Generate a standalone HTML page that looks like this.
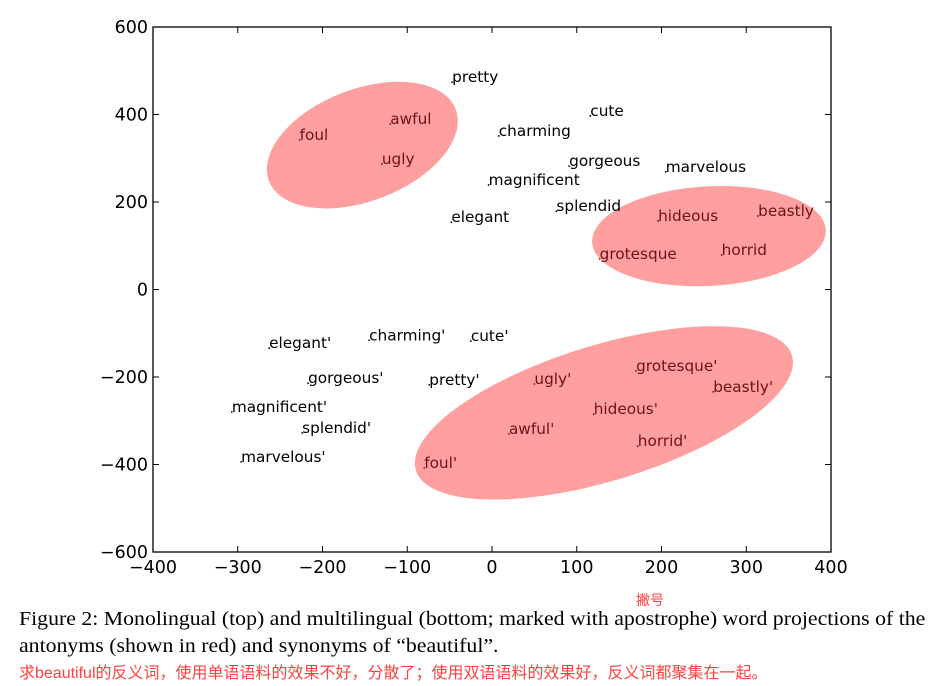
<!DOCTYPE html>
<html><head><meta charset="utf-8"><style>
body{margin:0;background:#fff;width:942px;height:686px;overflow:hidden;position:relative}
.cap{position:absolute;left:19px;font-family:"Liberation Serif",serif;font-size:20px;color:#000;white-space:nowrap;transform:scaleX(1.09);transform-origin:left top}
.cn{position:absolute;font-family:"Liberation Sans","Noto Sans CJK SC",sans-serif;color:#ff4040;font-size:14px;white-space:nowrap}
</style></head><body>
<svg id="chart" width="942" height="600" style="position:absolute;left:0;top:0" font-family="DejaVu Sans, sans-serif"></svg>
<div class="cn" style="left:636px;top:590px">撇号</div>
<div class="cap" style="top:608px">Figure 2: Monolingual (top) and multilingual (bottom; marked with apostrophe) word projections of the</div>
<div class="cap" style="top:635px">antonyms (shown in red) and synonyms of “beautiful”.</div>
<div class="cn" style="left:19px;top:659px;font-size:16px">求beautiful的反义词，使用单语语料的效果不好，分散了；使用双语语料的效果好，反义词都聚集在一起。</div>
<script>
const words=["pretty","foul","awful","ugly","charming","cute","gorgeous","marvelous","magnificent","splendid","hideous","beastly","elegant","grotesque","horrid","elegant'","charming'","cute'","gorgeous'","pretty'","ugly'","grotesque'","beastly'","magnificent'","hideous'","awful'","splendid'","horrid'","marvelous'","foul'"];
const xs=[-47,-227,-120,-130,8,116,91,205,-4,76,196,314,-48,127,271,-263,-145,-25,-217,-74,50,170,261,-307,120,20,-224,172,-296,-80];
const ys=[474,342,378,287,351,397,282,269,239,179,157,168,154,70,79,-134,-116,-118,-214,-218,-216,-186,-234,-280,-285,-330,-328,-358,-394,-408];
const antonym=[0,1,1,1,0,0,0,0,0,0,1,1,0,1,1,0,0,0,0,0,1,1,1,0,1,1,0,1,0,1];
const ellCx=[-153,256,132];const ellCy=[330,122,-282];const ellRx=[118,138,232];const ellRy=[128,114,155];const ellRot=[-21,-3,-17];
const xTicks=[-400,-300,-200,-100,0,100,200,300,400];
const yTicks=[600,400,200,0,-200,-400,-600];
const L=153,R=831,T=27,B=552;
const X=v=>L+(v+400)/800*(R-L);
const Y=v=>B-(v+600)/1200*(B-T);
const svg=document.getElementById('chart');const NS='http://www.w3.org/2000/svg';
function mk(t,a){const e=document.createElementNS(NS,t);for(const k in a)e.setAttribute(k,a[k]);svg.appendChild(e);return e;}
ellCx.forEach((c,i)=>{const cx=X(c),cy=Y(ellCy[i]);const e=mk('ellipse',{cx:cx,cy:cy,rx:ellRx[i]*(R-L)/800,ry:ellRy[i]*(B-T)/1200,fill:'#ff9f9f',transform:`rotate(${ellRot[i]} ${cx} ${cy})`});

});
words.forEach((w,i)=>{const px=X(xs[i]),py=Y(ys[i]);const col=antonym[i]?'#6a1414':'#000';
const d=mk('circle',{cx:px,cy:py,r:0.9,fill:col});


const t=mk('text',{x:px,y:py,'font-size':15.3,fill:col});t.textContent=w;

});
const fr=mk('rect',{x:L,y:T,width:R-L,height:B-T,fill:'none',stroke:'#000','stroke-width':1.3});


xTicks.forEach(v=>{const x=X(v);mk('line',{x1:x,x2:x,y1:B,y2:B-6,stroke:'#000'});mk('line',{x1:x,x2:x,y1:T,y2:T+6,stroke:'#000'});
const t=mk('text',{x:x,y:B+21,'font-size':17.5,'text-anchor':'middle'});t.textContent=v<0?'\u2212'+(-v):v;

});
yTicks.forEach(v=>{const y=Y(v);mk('line',{x1:L,x2:L+6,y1:y,y2:y,stroke:'#000'});mk('line',{x1:R,x2:R-6,y1:y,y2:y,stroke:'#000'});
const t=mk('text',{x:L-5,y:y+6,'font-size':17.5,'text-anchor':'end'});t.textContent=v<0?'\u2212'+(-v):v;

});
</script>
</body></html>
